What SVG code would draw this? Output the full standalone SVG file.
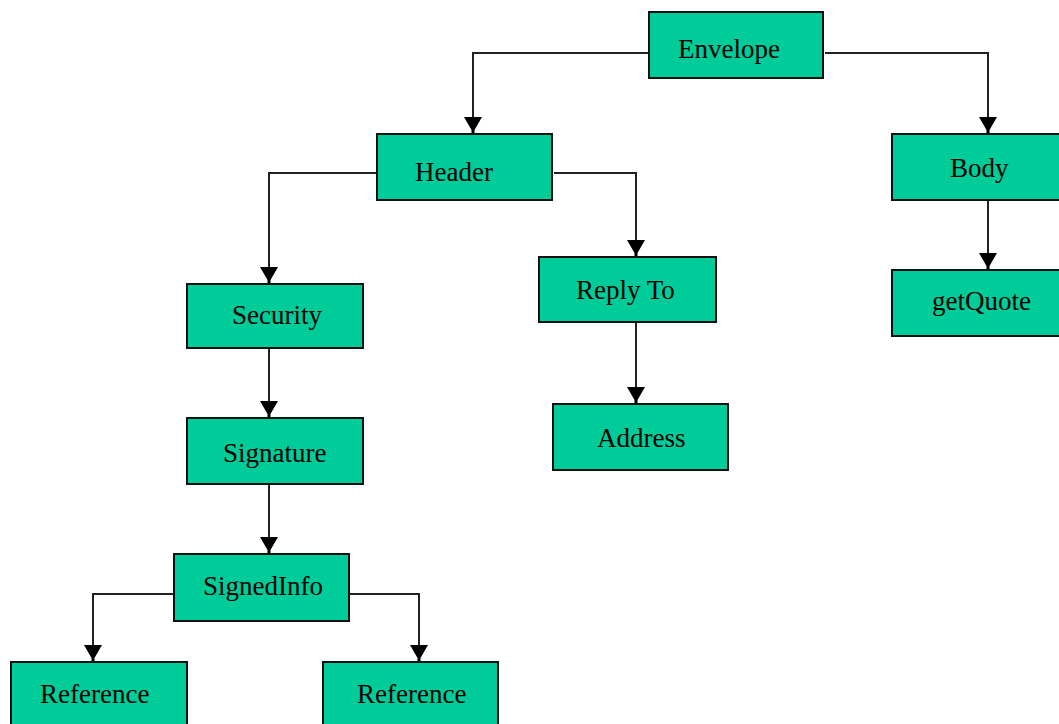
<svg xmlns="http://www.w3.org/2000/svg" width="1059" height="724" viewBox="0 0 1059 724">
  <style>
    .box { fill: #00CC99; stroke: #111; stroke-width: 2; }
    .lbl { font-family: "Liberation Serif", "Times New Roman", serif; font-size: 27px; fill: #000; }
    .wire { fill: none; stroke: #222; stroke-width: 2; }
  </style>
  <defs>
    <!-- arrowhead drawn along +x, tip at the path end -->
    <marker id="arrow" markerUnits="userSpaceOnUse" markerWidth="18" markerHeight="20" viewBox="-17 -10 18 20" refX="0" refY="0" orient="auto">
      <path d="M -16 -9 L -16 9 L -3 1.5 L 0 1.5 L 0 -1.5 L -3 -1.5 Z" fill="#000"/>
    </marker>
  </defs>
  <rect width="1059" height="724" fill="#fff"/>

  <g id="connectors">
    <path class="wire" d="M649,53 H473 V133" marker-end="url(#arrow)"/>
    <path class="wire" d="M825,53 H988 V133" marker-end="url(#arrow)"/>
    <path class="wire" d="M377,173 H269 V283" marker-end="url(#arrow)"/>
    <path class="wire" d="M554,173 H636 V256" marker-end="url(#arrow)"/>
    <path class="wire" d="M988,201 V269" marker-end="url(#arrow)"/>
    <path class="wire" d="M269,349 V417" marker-end="url(#arrow)"/>
    <path class="wire" d="M636,323 V403" marker-end="url(#arrow)"/>
    <path class="wire" d="M269,485 V553" marker-end="url(#arrow)"/>
    <path class="wire" d="M174,594 H93 V661" marker-end="url(#arrow)"/>
    <path class="wire" d="M349,594 H419 V661" marker-end="url(#arrow)"/>
  </g>

  <g id="envelope"><rect class="box" x="649" y="12" width="174" height="66"/><text class="lbl" x="678" y="58">Envelope</text></g>
  <g id="header"><rect class="box" x="377" y="134" width="175" height="66"/><text class="lbl" x="415" y="181">Header</text></g>
  <g id="body"><rect class="box" x="892" y="134" width="172" height="66"/><text class="lbl" x="950" y="177">Body</text></g>
  <g id="security"><rect class="box" x="187" y="284" width="176" height="64"/><text class="lbl" x="232" y="324">Security</text></g>
  <g id="reply-to"><rect class="box" x="539" y="257" width="177" height="65"/><text class="lbl" x="576" y="299">Reply To</text></g>
  <g id="get-quote"><rect class="box" x="892" y="270" width="172" height="66"/><text class="lbl" x="932" y="310">getQuote</text></g>
  <g id="signature"><rect class="box" x="187" y="418" width="176" height="66"/><text class="lbl" x="223" y="462">Signature</text></g>
  <g id="address"><rect class="box" x="553" y="404" width="175" height="66"/><text class="lbl" x="597" y="447">Address</text></g>
  <g id="signed-info"><rect class="box" x="174" y="554" width="175" height="67"/><text class="lbl" x="203" y="595">SignedInfo</text></g>
  <g id="reference-1"><rect class="box" x="11" y="662" width="176" height="70"/><text class="lbl" x="40" y="703">Reference</text></g>
  <g id="reference-2"><rect class="box" x="323" y="662" width="175" height="70"/><text class="lbl" x="357" y="703">Reference</text></g>
</svg>
